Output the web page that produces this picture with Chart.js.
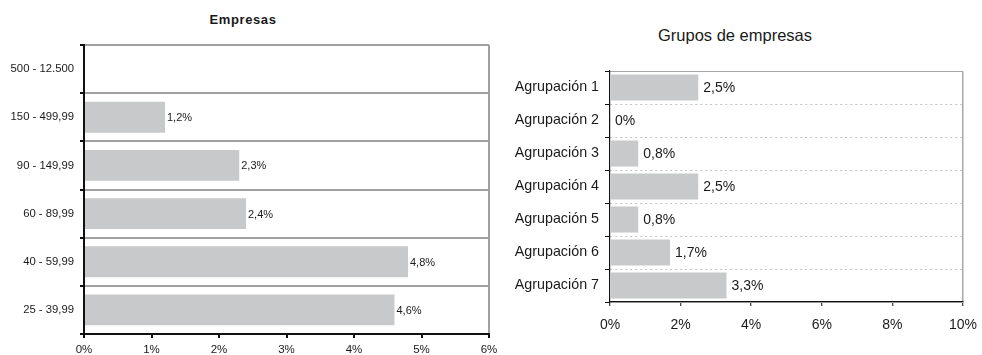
<!DOCTYPE html>
<html lang="es">
<head>
<meta charset="utf-8">
<script src="https://cdn.jsdelivr.net/npm/chart.js@4/dist/chart.umd.min.js"></script>
<style>
  html, body { margin: 0; padding: 0; background: #fff; }
  body { width: 982px; height: 355px; position: relative; overflow: hidden; font-family: "Liberation Sans", Arial, sans-serif; }
  .box { position: absolute; top: 0; height: 355px; }
  .title { position: absolute; text-align: center; color: #1a1a1a; white-space: nowrap; }
  #t1 { left: 0; width: 486px; top: 12px; font-size: 13px; font-weight: bold; letter-spacing: 0.6px; line-height: 16px; }
  #t2 { left: 500px; width: 470px; top: 26px; font-size: 16.5px; line-height: 18px; }
</style>
</head>
<body>
<div class="title" id="t1">Empresas</div>
<div class="title" id="t2">Grupos de empresas</div>
<div class="box" style="left:0;width:500px;"><canvas id="c1"></canvas></div>
<div class="box" style="left:500px;width:482px;"><canvas id="c2"></canvas></div>
<script>
// Company size bands and their share
const sizeBands = ['500 - 12.500', '150 - 499,99', '90 - 149,99', '60 - 89,99', '40 - 59,99', '25 - 39,99'];
const sizeValues = [null, 1.2, 2.3, 2.4, 4.8, 4.6];
const sizeTicks = { min: 0, max: 6, step: 1 };

// Company groups and their share
const groupNames = ['Agrupación 1', 'Agrupación 2', 'Agrupación 3', 'Agrupación 4', 'Agrupación 5', 'Agrupación 6', 'Agrupación 7'];
const groupValues = [2.5, 0, 0.8, 2.5, 0.8, 1.7, 3.3];
const groupTicks = { min: 0, max: 10, step: 2 };

const FONT = '"Liberation Sans", Arial, sans-serif';
const BAR = '#c8c9ca';

const fmt = v => String(v).replace('.', ',') + '%';

// Fixed height for the value axis; edge labels are allowed to sit in the layout padding
const fixXAxis = h => s => { s.height = h; s.paddingLeft = 0; s.paddingRight = 0; };

// Writes each bar's value just past its end
const valueLabels = {
  id: 'valueLabels',
  afterDatasetsDraw(chart, args, opts) {
    const { ctx } = chart;
    const meta = chart.getDatasetMeta(0);
    const data = chart.data.datasets[0].data;
    ctx.save();
    ctx.font = opts.size + 'px ' + FONT;
    ctx.fillStyle = '#1a1a1a';
    ctx.textBaseline = 'middle';
    ctx.textAlign = 'left';
    meta.data.forEach((bar, i) => {
      const v = data[i];
      if (v === null || v === undefined) return;
      ctx.fillText(fmt(v), bar.x + opts.offset, bar.y + 1);
    });
    ctx.restore();
  }
};

// Left chart: company size bands
new Chart(document.getElementById('c1'), {
  type: 'bar',
  data: {
    labels: sizeBands,
    datasets: [{ data: sizeValues, backgroundColor: BAR, borderWidth: 0, barPercentage: 0.64, categoryPercentage: 1 }]
  },
  plugins: [valueLabels],
  options: {
    indexAxis: 'y',
    responsive: true,
    maintainAspectRatio: false,
    animation: false,
    layout: { padding: { top: 45, right: 11, left: 0, bottom: 0 } },
    plugins: {
      legend: { display: false },
      tooltip: { enabled: false },
      valueLabels: { size: 11, offset: 2 }
    },
    scales: {
      x: {
        min: sizeTicks.min, max: sizeTicks.max,
        afterFit: fixXAxis(21),
        ticks: { stepSize: sizeTicks.step, callback: v => v + '%', color: '#1a1a1a', font: { family: FONT, size: 11.5 }, padding: 5, maxRotation: 0 },
        grid: {
          color: c => (c.index === sizeTicks.max / sizeTicks.step ? '#a0a0a0' : 'rgba(0,0,0,0)'),
          lineWidth: 2, tickColor: '#111', tickWidth: 2, tickLength: 4
        },
        border: { display: true, color: '#111', width: 2 }
      },
      y: {
        afterFit: s => { s.width = 84; },
        ticks: { color: '#1a1a1a', font: { family: FONT, size: 11.3 }, padding: 6 },
        grid: {
          color: c => (c.index === sizeBands.length ? '#111' : '#a0a0a0'),
          lineWidth: 2, tickColor: '#111', tickWidth: 2, tickLength: 4
        },
        border: { display: true, color: '#111', width: 2 }
      }
    }
  }
});

// Right chart: company groups
new Chart(document.getElementById('c2'), {
  type: 'bar',
  data: {
    labels: groupNames,
    datasets: [{ data: groupValues, backgroundColor: BAR, borderWidth: 0, barPercentage: 0.79, categoryPercentage: 1 }]
  },
  plugins: [valueLabels],
  options: {
    indexAxis: 'y',
    responsive: true,
    maintainAspectRatio: false,
    animation: false,
    layout: { padding: { top: 71, right: 19, left: 0, bottom: 0 } },
    plugins: {
      legend: { display: false },
      tooltip: { enabled: false },
      valueLabels: { size: 14, offset: 5 }
    },
    scales: {
      x: {
        min: groupTicks.min, max: groupTicks.max,
        afterFit: fixXAxis(53),
        ticks: { stepSize: groupTicks.step, callback: v => v + '%', color: '#1a1a1a', font: { family: FONT, size: 14 }, padding: 11, maxRotation: 0 },
        grid: {
          color: c => (c.index === groupTicks.max / groupTicks.step ? '#a8a8a8' : 'rgba(0,0,0,0)'),
          lineWidth: 1.5, tickColor: '#111', tickWidth: 1, tickLength: 4
        },
        border: { display: true, color: '#111', width: 1.2 }
      },
      y: {
        afterFit: s => { s.width = 110; },
        ticks: { color: '#1a1a1a', font: { family: FONT, size: 14.3 }, padding: 6 },
        grid: {
          color: c => (c.index === 0 ? '#a8a8a8' : (c.index === groupNames.length ? '#111' : '#c4c4c4')),
          lineWidth: 1, tickColor: '#111', tickWidth: 1, tickLength: 5
        },
        border: {
          display: true, color: '#111', width: 1.2,
          dash: c => (c.index > 0 && c.index < groupNames.length ? [2, 3] : [])
        }
      }
    }
  }
});
</script>
</body>
</html>
